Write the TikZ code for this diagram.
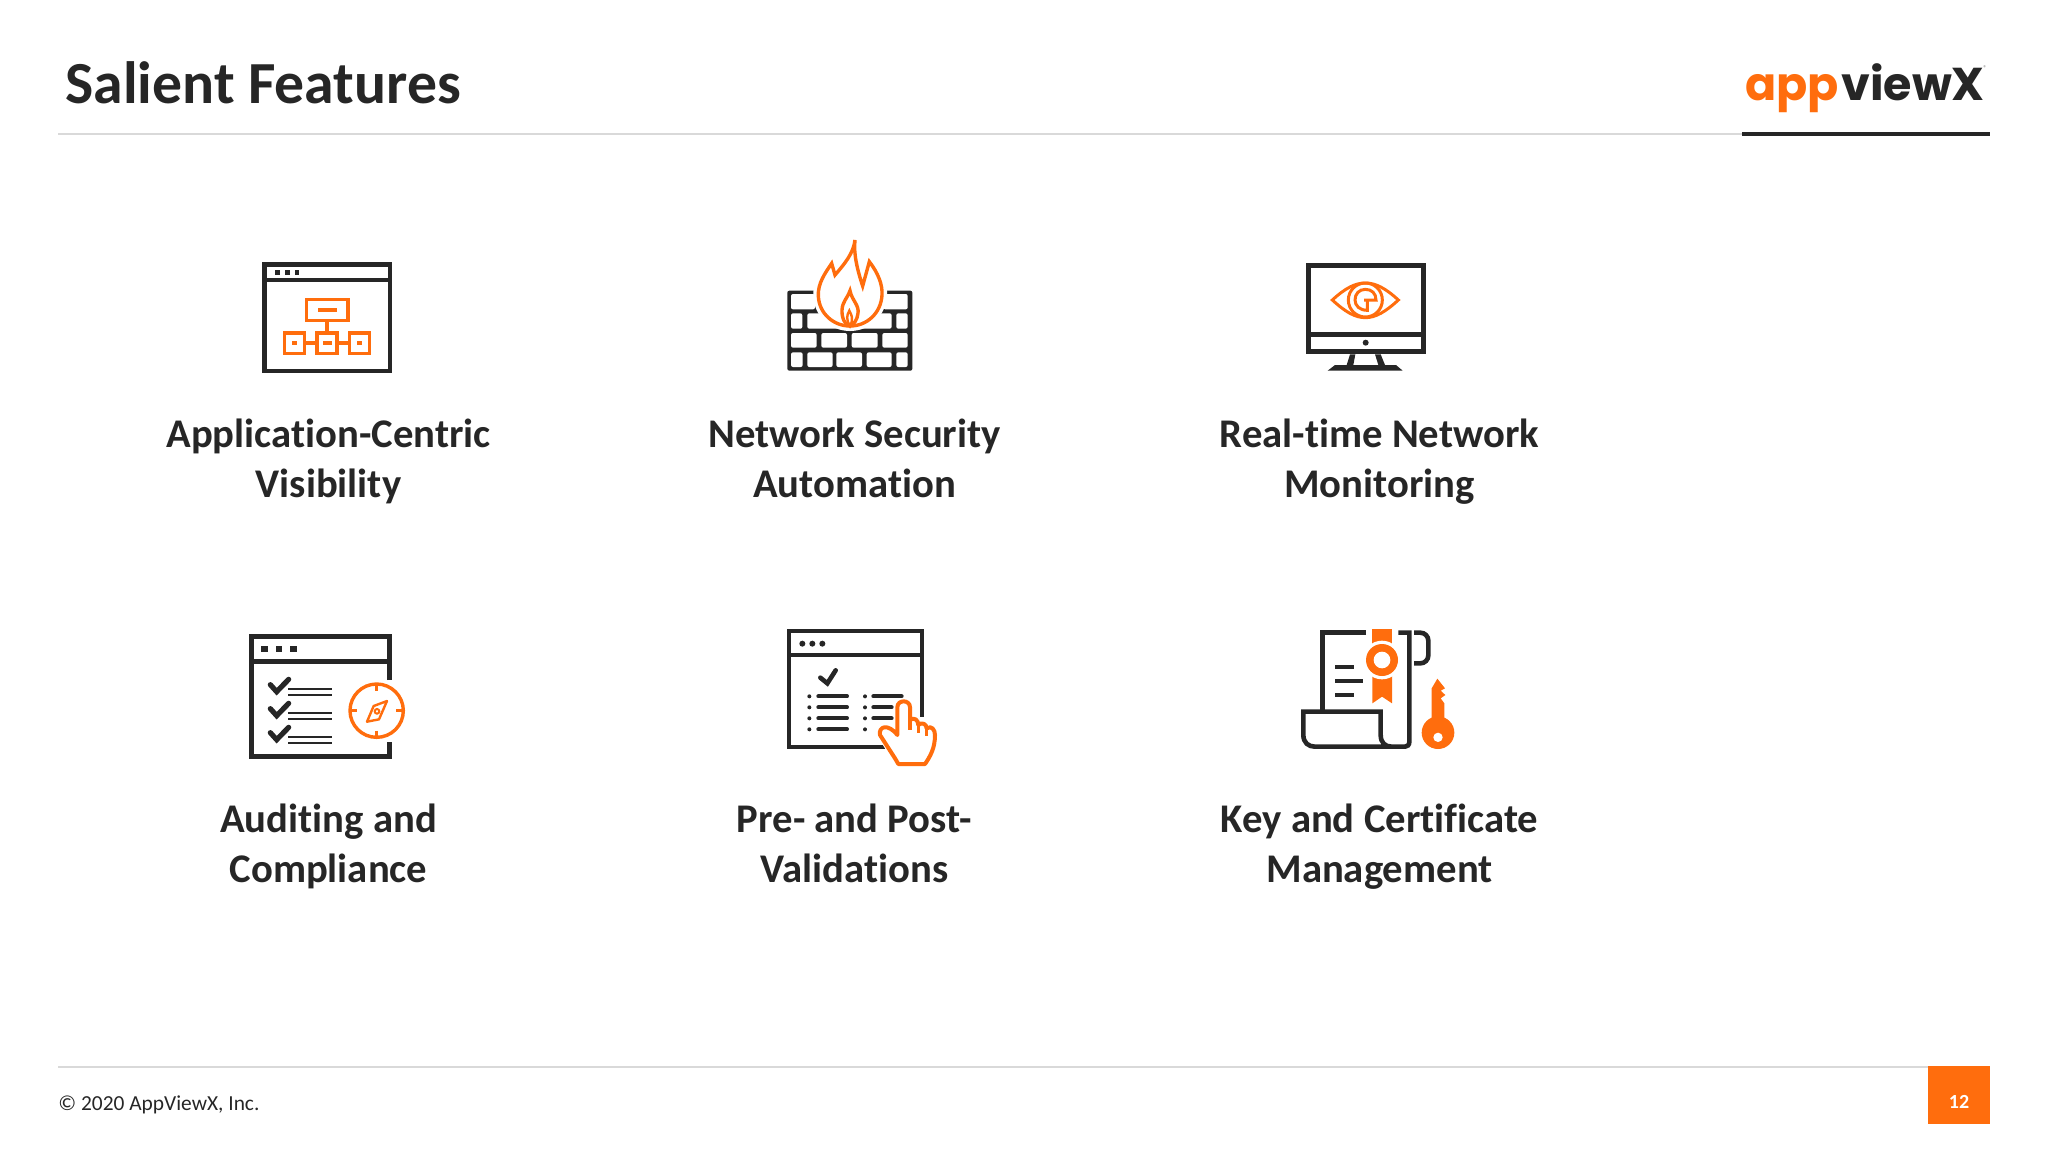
\documentclass[tikz,border=0pt]{standalone}
\usepackage{fontspec}
\setmainfont{Carlito}[Ligatures=NoCommon]
\newfontfamily\logofont{Poppins}
\definecolor{apporange}{HTML}{FF6D0D}
\definecolor{appdark}{HTML}{262626}
\definecolor{appgray}{HTML}{D9D9D9}
\tikzset{
  darkline/.style={draw=appdark,line width=2.3pt},
  thinline/.style={draw=appdark,line width=1pt},
  orangeline/.style={draw=apporange,line width=1.7pt},
  haloline/.style={draw=white,fill=white,line width=5pt},
  feature/.style={anchor=base,align=center,font=\fontsize{20.35}{24.7}\selectfont\bfseries,text=appdark,inner sep=0pt},
  logotext/.style={anchor=base west,inner sep=0pt,font=\logofont\bfseries\fontsize{23}{23}\selectfont},
  zoomed/.style={scale=1/3}
}
\begin{document}
\begin{tikzpicture}[x=.5pt,y=-.5pt]
    \useasboundingbox (0,0) rectangle (2048,1152);
    % header and footer
    \node [anchor=base west,inner sep=0pt,font=\fontsize{29.85}{36}\selectfont\bfseries,text=appdark] (title) at (65,103) {Salient Features};
    \coordinate (headleft) at (58,134);
    \coordinate (headmid) at (1742,134);
    \coordinate (headright) at (1990,134);
    \draw [appgray,line width=.8pt] (headleft) -- (headmid);
    \draw [appdark,line width=2.4pt] (headmid) -- (headright);
    \node [logotext,text=apporange] (logoapp) at (1745,100) {app};
    \node [logotext,text=appdark] (logoview) at (1841,100) {viewX};
    \node [anchor=center,inner sep=0pt,font=\fontsize{3.5}{4}\selectfont,text=appdark!60] (logoreg) at (1985,68) {®};
    \coordinate (footleft) at (58,1067);
    \coordinate (footright) at (1928,1067);
    \draw [appgray,line width=.8pt] (footleft) -- (footright);
    \node [anchor=base west,inner sep=0pt,font=\fontsize{10.7}{13}\selectfont,text=appdark] (copyright) at (58,1110) {© 2020 AppViewX, Inc.};
    \node [fill=apporange,minimum width=31pt,minimum height=29pt,inner sep=0pt] (page) at (1959,1095) {};
    \node [inner sep=0pt,font=\fontsize{10}{12}\selectfont\bfseries,text=white] (pagenum) at (1959,1102) {12};

    % labels
    \node [feature] (appvis) at (328.5,497) {Application-Centric\\Visibility};
    \node [feature] (netsec) at (854.5,497) {Network Security\\Automation};
    \node [feature] (realtime) at (1379.5,497) {Real-time Network\\Monitoring};
    \node [feature] (audit) at (328.5,882) {Auditing and\\Compliance};
    \node [feature] (prepost) at (854.5,882) {Pre- and Post-\\Validations};
    \node [feature] (keycert) at (1379.5,882) {Key and Certificate\\Management};

    % application window
    \begin{scope}[shift={(230,220)},zoomed]
      \draw [darkline] (104,134) rectangle (480,453);
      \draw [darkline] (104,180) -- (480,180);
      \foreach \x in {143,172,201} \fill [appdark] (\x-7,150) rectangle (\x+7,164);
      \draw [orangeline] (230,239) rectangle (354,301);
      \draw [orangeline] (264,270) -- (321,270);
      \draw [orangeline] (291,301) -- (291,339);
      \foreach \x in {194,291,389} {
        \draw [orangeline] (\x-30,339) rectangle (\x+30,400);
      }
      \draw [orangeline] (224,369) -- (261,369) (321,369) -- (359,369);
      \fill [apporange] (187,362) rectangle (201,376);
      \fill [apporange] (278,362) rectangle (305,376);
      \fill [apporange] (382,362) rectangle (396,376);
    \end{scope}

    % firewall
    \begin{scope}[shift={(770,220)},zoomed]
      \fill [appdark,rounded corners=1pt] (52,212) rectangle (427,452);
      \begin{scope}[white,rounded corners=1pt]
        \fill (63,222) rectangle (135,268);
        \fill (340,222) rectangle (413,268);
        \fill (63,280) rectangle (97,326);
        \fill (112,280) rectangle (365,326);
        \fill (379,280) rectangle (413,326);
        \fill (63,339) rectangle (140,383);
        \fill (154,339) rectangle (231,383);
        \fill (245,339) rectangle (323,383);
        \fill (337,339) rectangle (413,383);
        \fill (63,397) rectangle (98,441);
        \fill (112,397) rectangle (188,441);
        \fill (199,397) rectangle (276,441);
        \fill (290,397) rectangle (365,441);
        \fill (379,397) rectangle (413,441);
      \end{scope}
      \path [haloline] (255,60) .. controls (250,100) and (262,150) .. (278,198) -- (298,125) .. controls (325,160) and (338,195) .. (336,225) .. controls (333,280) and (290,318) .. (240,318) .. controls (190,318) and (147,280) .. (145,228) .. controls (143,190) and (165,160) .. (185,130) -- (195,165) .. controls (225,130) and (250,100) .. (255,60) -- cycle;
      \draw [orangeline,line join=miter] (255,60) .. controls (250,100) and (262,150) .. (278,198) -- (298,125) .. controls (325,160) and (338,195) .. (336,225) .. controls (333,280) and (290,318) .. (240,318) .. controls (190,318) and (147,280) .. (145,228) .. controls (143,190) and (165,160) .. (185,130) -- (195,165) .. controls (225,130) and (250,100) .. (255,60) -- cycle;
      \draw [orangeline] (240,212) .. controls (245,240) and (268,255) .. (264,280) .. controls (262,300) and (250,315) .. (240,318) .. controls (225,315) and (215,295) .. (216,270) .. controls (217,245) and (232,235) .. (240,212) -- cycle;
      \draw [orangeline,line width=1.2pt] (238,272) .. controls (244,285) and (252,295) .. (240,318) .. controls (228,300) and (230,285) .. (238,272) -- cycle;
    \end{scope}

    % monitor
    \begin{scope}[shift={(1290,240)},zoomed]
      \draw [darkline,line width=2.5pt] (54,76) rectangle (400,335);
      \draw [darkline,line width=2.5pt] (54,284) -- (400,284);
      \fill [appdark] (227,308) circle (9);
      \fill [appdark] (180,343) -- (170,375) -- (135,375) -- (113,392) -- (338,392) -- (318,375) -- (285,375) -- (272,343) -- (255,343) -- (265,375) -- (190,375) -- (196,343) -- cycle;
      \draw [orangeline,line width=1.5pt] (127,180) .. controls (165,145) and (195,129) .. (226,129) .. controls (257,129) and (287,145) .. (325,180) .. controls (287,215) and (257,233) .. (226,233) .. controls (195,233) and (165,215) .. (127,180) -- cycle;
      \draw [orangeline,line width=1.5pt] (226,180) circle (51);
      \draw [orangeline,line width=1.5pt] (258,180) .. controls (258,160) and (245,148) .. (226,148) .. controls (207,148) and (195,162) .. (195,180) .. controls (195,198) and (210,211) .. (232,211) -- (232,180) -- (222,180) -- cycle;
    \end{scope}

    % checklist window
    \begin{scope}[shift={(230,620)},zoomed]
      \draw [darkline] (478,180) -- (478,50) -- (64,50) -- (64,410) -- (478,410) -- (478,367);
      \draw [darkline] (64,125) -- (478,125);
      \foreach \x in {104,147,190} \fill [appdark] (\x-10,77) rectangle (\x+10,97);
      \foreach \y in {0,72,144} {
        \draw [darkline,line width=2.6pt,line cap=round] (121,194+\y) -- (140,215+\y) -- (176,178+\y);
        \draw [thinline] (175,207+\y) -- (307,207+\y);
        \draw [thinline] (175,226+\y) -- (307,226+\y);
      }
      \draw [orangeline] (440,272) circle (80);
      \draw [orangeline,line width=1.2pt] (440,192) -- (440,212) (440,332) -- (440,352) (360,272) -- (382,272) (498,272) -- (520,272);
      \draw [orangeline,line width=1.2pt,line join=round] (471,243) -- (447,298) -- (411,305) -- (431,258) -- cycle;
      \draw [orangeline,line width=1pt] (441,274) circle (7);
    \end{scope}

    % validation window
    \begin{scope}[shift={(770,620)},zoomed]
      \draw [darkline,line width=2pt] (456,290) -- (456,34) -- (58,34) -- (58,381) -- (345,381);
      \draw [darkline,line width=2pt] (58,105) -- (456,105);
      \foreach \x in {97,127,157} \fill [appdark] (\x,71) circle (9);
      \draw [darkline,line width=2.3pt,line cap=round] (151,173) -- (172,190) -- (197,151);
      \foreach \y in {229,262,295,328} {
        \fill [appdark] (118,\y) circle (6);
        \draw [darkline,line width=2pt,line cap=round] (145,\y) -- (231,\y);
        \fill [appdark] (285,\y) circle (6);
      }
      \draw [darkline,line width=2pt,line cap=round] (310,229) -- (395,229);
      \draw [darkline,line width=2pt,line cap=round] (310,262) -- (365,262);
      \draw [darkline,line width=2pt,line cap=round] (310,295) -- (365,295);
      \path [fill=white,draw=white,line width=3pt] (382,345) -- (382,262) .. controls (382,238) and (420,238) .. (420,262) -- (420,300) .. controls (432,290) and (445,300) .. (445,315) .. controls (455,305) and (470,312) .. (470,325) .. controls (485,315) and (495,330) .. (495,345) .. controls (495,385) and (480,410) .. (465,432) -- (385,432) -- (375,415) -- (330,345) .. controls (325,318) and (355,310) .. (382,345) -- cycle;
      \draw [orangeline,line width=2pt,line join=round] (382,345) -- (382,262) .. controls (382,238) and (420,238) .. (420,262) -- (420,300) .. controls (432,290) and (445,300) .. (445,315) .. controls (455,305) and (470,312) .. (470,325) .. controls (485,315) and (495,330) .. (495,345) .. controls (495,385) and (480,410) .. (465,432) -- (385,432) -- (375,415) -- (330,345) .. controls (325,318) and (355,310) .. (382,345) -- cycle;
      \draw [orangeline,line width=1.7pt] (420,300) -- (420,330) (445,315) -- (445,340) (470,325) -- (470,348);
    \end{scope}

    % certificate and key
    \begin{scope}[shift={(1290,620)},zoomed]
      \draw [darkline] (228,38) -- (98,38) -- (98,272);
      \draw [darkline] (325,38) -- (358,38) -- (358,365) .. controls (358,375) and (352,380) .. (345,380) -- (75,380) .. controls (55,380) and (40,368) .. (40,345) -- (40,275) -- (272,275) -- (272,345) .. controls (272,368) and (285,380) .. (305,380);
      \draw [darkline,rounded corners=4pt] (372,38) -- (415,38) -- (415,130) -- (372,130);
      \draw [darkline] (136,141) -- (192,141) (136,183) -- (218,183) (136,225) -- (192,225);
      \fill [apporange] (247,28) rectangle (306,90);
      \fill [apporange] (247,150) -- (306,150) -- (306,250) -- (276,230) -- (247,250) -- cycle;
      \fill [white] (276,120) circle (58);
      \fill [apporange] (276,120) circle (48);
      \fill [white] (276,120) circle (25);
      \fill [apporange] (425,205) -- (442,176) -- (465,205) -- (452,212) -- (466,225) -- (452,235) -- (463,250) -- (463,300) -- (425,300) -- cycle;
      \fill [apporange] (444,338) circle (49);
      \fill [white] (444,352) circle (14);
    \end{scope}
\end{tikzpicture}
\end{document}
